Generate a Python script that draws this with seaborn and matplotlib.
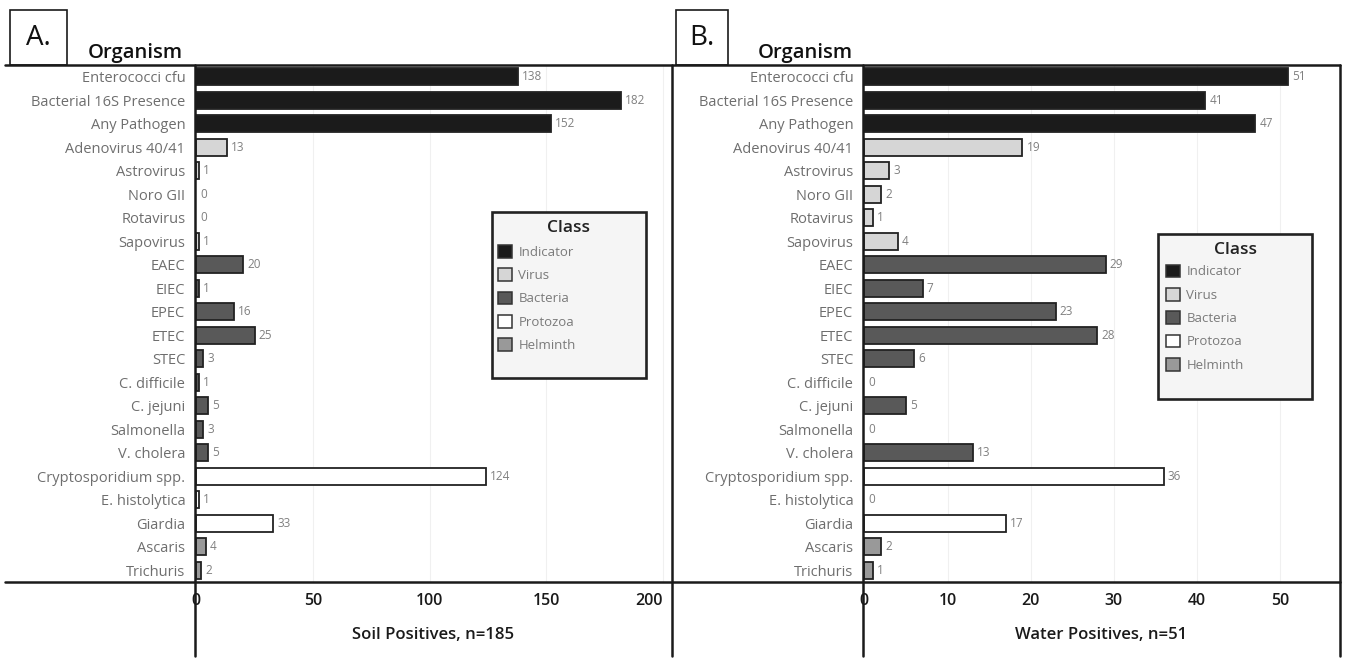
import pandas as pd
import matplotlib
matplotlib.use("Agg")
import matplotlib.pyplot as plt
import seaborn as sns
from matplotlib.lines import Line2D
from matplotlib.patches import Patch, Rectangle

organisms = ["Enterococci cfu", "Bacterial 16S Presence", "Any Pathogen",
             "Adenovirus 40/41", "Astrovirus", "Noro GII", "Rotavirus", "Sapovirus",
             "EAEC", "EIEC", "EPEC", "ETEC", "STEC", "C. difficile", "C. jejuni",
             "Salmonella", "V. cholera", "Cryptosporidium spp.", "E. histolytica",
             "Giardia", "Ascaris", "Trichuris"]
classes = (["Indicator"] * 3 + ["Virus"] * 5 + ["Bacteria"] * 9
           + ["Protozoa"] * 3 + ["Helminth"] * 2)
soil_positives = [138, 182, 152, 13, 1, 0, 0, 1, 20, 1, 16, 25, 3, 1, 5, 3, 5, 124, 1, 33, 4, 2]
water_positives = [51, 41, 47, 19, 3, 2, 1, 4, 29, 7, 23, 28, 6, 0, 5, 0, 13, 36, 0, 17, 2, 1]

class_order = ["Indicator", "Virus", "Bacteria", "Protozoa", "Helminth"]
class_colors = {"Indicator": "#1b1b1b", "Virus": "#d6d6d6", "Bacteria": "#595959",
                "Protozoa": "#ffffff", "Helminth": "#999999"}

df = pd.DataFrame({"Organism": organisms, "Class": classes,
                   "Soil": soil_positives, "Water": water_positives})

sns.set_theme(style="white")
plt.rcParams["font.family"] = ["Open Sans", "DejaVu Sans"]

W, H = 1346, 658
fig = plt.figure(figsize=(W / 100, H / 100), dpi=100)


def fx(px):
    return px / W


def fy(py):
    return 1 - py / H


def draw_panel(left, right, col, xmax, ticks, xlabel, box_ax, legend_anchor):
    ax = fig.add_axes([fx(left), fy(582), fx(right - left), (582 - 65) / H])
    sns.barplot(data=df, y="Organism", x=col, hue="Class", hue_order=class_order,
                palette=class_colors, dodge=False, width=0.72, orient="h",
                edgecolor="#222222", linewidth=1.3, legend=False, ax=ax)
    # hide the outline of zero-length bars
    for p in ax.patches:
        if p.get_width() == 0:
            p.set_linewidth(0)
    for cont in ax.containers:
        ax.bar_label(cont, padding=3, fontsize=8.5, color="#808080")
    ax.set_xlim(-0.6 * xmax / 200, xmax)
    ax.set_ylim(len(organisms) - 0.5, -0.5)
    ax.set_xticks(ticks)
    ax.set_xticklabels([str(t) for t in ticks], fontsize=11.5, color="#1a1a1a",
                       fontweight="semibold")
    ax.tick_params(axis="x", length=0, pad=8)
    ax.tick_params(axis="y", length=0, pad=7, labelsize=10.5, labelcolor="#6e6e6e")
    ax.set_ylabel("")
    ax.set_xlabel(xlabel, fontsize=12, fontweight="semibold", color="#1a1a1a")
    ax.xaxis.set_label_coords(0.5, -0.088)
    for s in ax.spines.values():
        s.set_visible(False)
    for t in ticks[1:]:
        ax.axvline(t, color="#f0f0f0", lw=0.8, zorder=0)

    # legend box
    bx0, bx1, by0, by1 = box_ax
    ax.add_patch(Rectangle((bx0, by0), bx1 - bx0, by1 - by0, transform=ax.transAxes,
                           facecolor="#f5f5f5", edgecolor="#222222", lw=1.9, zorder=5))
    ax.text((bx0 + bx1) / 2, by1 - 0.031, "Class", transform=ax.transAxes,
            ha="center", va="center", fontsize=12.5, fontweight="semibold",
            color="#222222", zorder=6)
    handles = [Patch(facecolor=class_colors[c], edgecolor="#333333", lw=1.1, label=c)
               for c in class_order]
    leg = ax.legend(handles=handles, loc="upper left", bbox_to_anchor=legend_anchor,
                    frameon=False, fontsize=9.5, handlelength=1.1, handleheight=1.1,
                    handletextpad=0.45, labelspacing=0.72, borderpad=0, borderaxespad=0)
    leg.set_zorder(6)
    for t in leg.get_texts():
        t.set_color("#7a7a7a")
    return ax


ax_a = draw_panel(195, 672, "Soil", 204, [0, 50, 100, 150, 200], "Soil Positives, n=185",
                  (0.623, 0.945, 0.395, 0.716), (0.635, 0.652))
# keep the last tick label inside the frame
ax_a.get_xticklabels()[-1].set_horizontalalignment("right")
draw_panel(863, 1340, "Water", 57.2, [0, 10, 20, 30, 40, 50], "Water Positives, n=51",
           (0.619, 0.942, 0.354, 0.673), (0.635, 0.614))

# table-like frame lines
lk = dict(color="#1a1a1a", lw=1.8, transform=fig.transFigure)
for y in (65, 582):
    fig.add_artist(Line2D([fx(5), fx(1340)], [fy(y), fy(y)], **lk))
for x in (195, 672, 863, 1340):
    fig.add_artist(Line2D([fx(x), fx(x)], [fy(65), fy(656)], **lk))

# panel tags
for (x0, x1, lab) in [(10, 67, "A."), (676, 728, "B.")]:
    fig.add_artist(Rectangle((fx(x0), fy(65)), fx(x1 - x0), (65 - 10) / H,
                             transform=fig.transFigure, facecolor="white",
                             edgecolor="#1a1a1a", lw=1.2))
    fig.text(fx((x0 + x1) / 2), fy(38), lab, ha="center", va="center",
             fontsize=20, color="#111111")
for x in (135, 805):
    fig.text(fx(x), fy(58), "Organism", ha="center", va="baseline",
             fontsize=14.5, fontweight="semibold", color="#111111")

fig.savefig("out.png", dpi=100)
